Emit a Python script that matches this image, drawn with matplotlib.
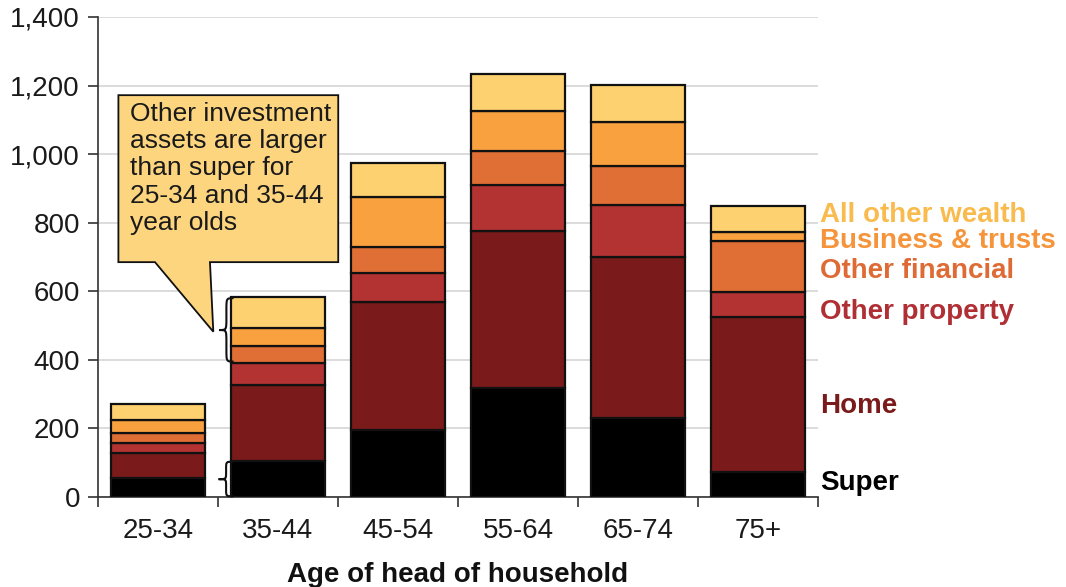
import matplotlib
matplotlib.use("Agg")
import matplotlib.pyplot as plt
from matplotlib.patches import Polygon, PathPatch
from matplotlib.path import Path
import numpy as np

plt.rcParams['font.family'] = ['Liberation Sans', 'DejaVu Sans']

# Household wealth by age of head of household ($'000)
age_groups = ["25-34", "35-44", "45-54", "55-64", "65-74", "75+"]
super_vals = [55, 104, 195, 317, 231, 74]
home = [74, 223, 375, 459, 470, 452]
other_property = [29, 65, 82, 134, 151, 73]
other_financial = [28, 49, 78, 98, 113, 148]
business_trusts = [39, 51, 144, 119, 128, 27]
all_other = [46, 90, 99, 107, 109, 76]

series_names = ["Super", "Home", "Other property", "Other financial",
                "Business & trusts", "All other wealth"]
series_values = [super_vals, home, other_property, other_financial,
                 business_trusts, all_other]
bar_colors = ["#000000", "#7A1A1A", "#B33232", "#E06F35", "#F9A03F", "#FDD070"]
label_colors = ["#000000", "#7A1A1A", "#B02F35", "#DE6B35", "#F5943A", "#F9BB4E"]
label_y = [40, 266, 540, 659, 748, 823]

fig = plt.figure(figsize=(10.66, 5.87), dpi=100)
ax = fig.add_axes([98 / 1066, 90 / 587, 720 / 1066, 480 / 587])

x = np.arange(len(age_groups))
bottom = np.zeros(len(age_groups))
for vals, col in zip(series_values, bar_colors):
    ax.bar(x, vals, width=0.78, bottom=bottom, color=col,
           edgecolor="#111111", linewidth=1.6, zorder=3)
    bottom += np.array(vals)

ax.set_xlim(-0.5, 5.5)
ax.set_ylim(0, 1400)
ax.set_yticks(np.arange(0, 1401, 200))
ax.set_yticklabels([f"{v:,}" for v in range(0, 1401, 200)])
ax.set_xticks(x)
ax.set_xticklabels(age_groups)
ax.set_xticks(np.arange(-0.5, 5.6, 1), minor=True)
ax.tick_params(axis="x", which="major", length=0, pad=15,
               labelsize=20, labelcolor="#1a1a1a")
ax.tick_params(axis="x", which="minor", length=7, width=1.2, color="#333333")
ax.tick_params(axis="y", length=7, width=1.2, color="#333333", pad=6,
               labelsize=20, labelcolor="#1a1a1a")
ax.grid(axis="y", color="#D6D6D6", linewidth=1.2, zorder=0)
ax.set_axisbelow(True)
for s in ["top", "right"]:
    ax.spines[s].set_visible(False)
for s in ["left", "bottom"]:
    ax.spines[s].set_color("#333333")
    ax.spines[s].set_linewidth(1.2)

ax.set_xlabel("Age of head of household", fontsize=20, fontweight="bold",
              color="#111111", labelpad=13)

# Series names at the right of the last bar
for name, col, yy in zip(series_names, label_colors, label_y):
    ax.text(5.52, yy, name, color=col, fontsize=20, fontweight="bold",
            ha="left", va="center", clip_on=False)

# Callout box with pointer
callout = Polygon([(-0.33, 1172), (1.502, 1172), (1.502, 685), (0.433, 685),
                   (0.461, 482), (-0.025, 685), (-0.33, 685)],
                  closed=True, facecolor="#FDD57F", edgecolor="#111111",
                  linewidth=1.3, zorder=5, clip_on=False)
ax.add_patch(callout)
ax.text(-0.235, 1152,
        "Other investment\nassets are larger\nthan super for\n25-34 and 35-44\nyear olds",
        fontsize=19, color="#1a1a1a", ha="left", va="top", linespacing=1.17,
        zorder=6)


def curly_brace(ax, x_tip, x_end, y0, y1, ym, d):
    xm = (x_tip + x_end) / 2
    verts = [(x_end, y1), (xm, y1), (xm, y1), (xm, y1 - d),
             (xm, ym + d),
             (xm, ym), (xm, ym), (x_tip, ym),
             (xm, ym), (xm, ym), (xm, ym - d),
             (xm, y0 + d),
             (xm, y0), (xm, y0), (x_end, y0)]
    codes = [Path.MOVETO, Path.CURVE4, Path.CURVE4, Path.CURVE4,
             Path.LINETO,
             Path.CURVE4, Path.CURVE4, Path.CURVE4,
             Path.CURVE4, Path.CURVE4, Path.CURVE4,
             Path.LINETO,
             Path.CURVE4, Path.CURVE4, Path.CURVE4]
    ax.add_patch(PathPatch(Path(verts, codes), facecolor="none",
                           edgecolor="#111111", linewidth=1.5, zorder=6,
                           clip_on=False))


curly_brace(ax, 0.51, 0.63, 395, 580, 487, 35)
curly_brace(ax, 0.505, 0.63, 2, 103, 52, 20)

fig.savefig("out.png", dpi=100)
